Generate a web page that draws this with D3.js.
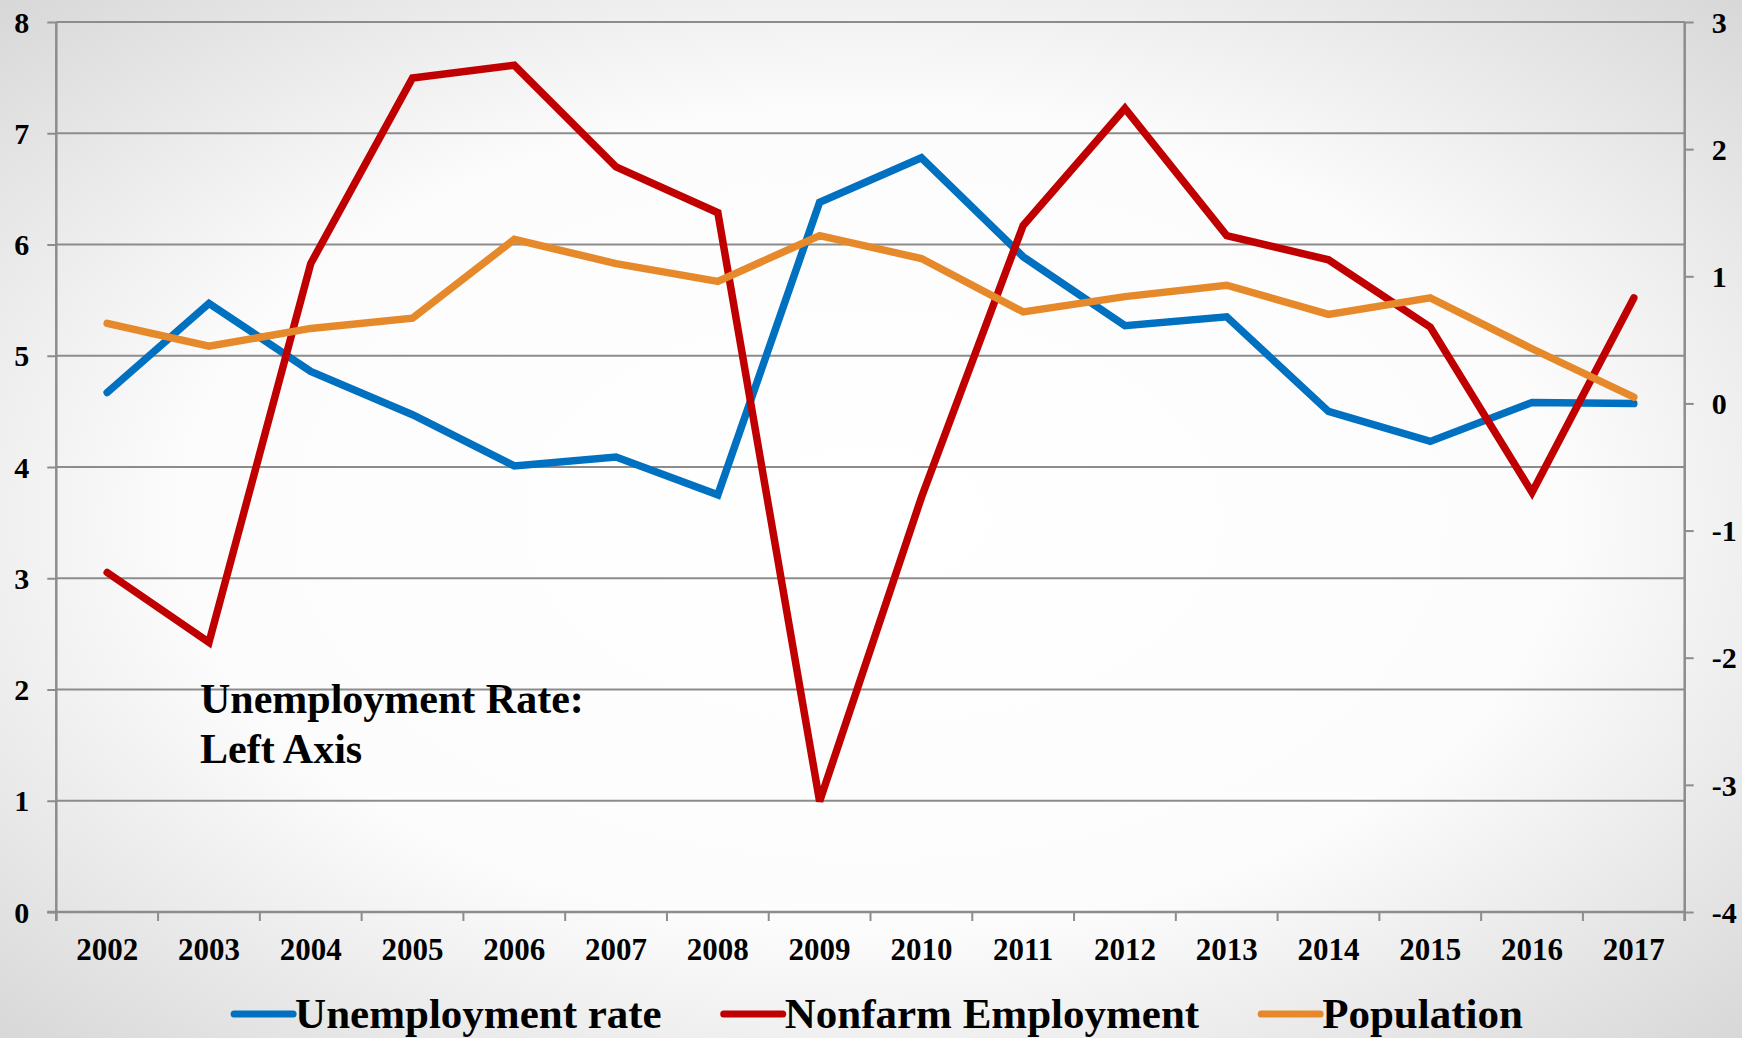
<!DOCTYPE html>
<html>
<head>
<meta charset="utf-8">
<script src="https://cdn.jsdelivr.net/npm/d3@7"></script>
<style>
  html, body { margin: 0; padding: 0; }
  body { width: 1742px; height: 1038px; overflow: hidden; }
  text { font-family: "Liberation Serif", "Times New Roman", serif; font-weight: bold; fill: #000; }
</style>
</head>
<body>
<svg id="chart" width="1742" height="1038"></svg>
<script>
const years = ["2002","2003","2004","2005","2006","2007","2008","2009","2010","2011","2012","2013","2014","2015","2016","2017"];
const unemploymentRate = [4.67, 5.47, 4.86, 4.47, 4.01, 4.09, 3.75, 6.38, 6.78, 5.89, 5.27, 5.35, 4.50, 4.23, 4.58, 4.57];
const nonfarmEmployment = [-1.33, -1.88, 1.10, 2.56, 2.66, 1.86, 1.50, -3.13, -0.74, 1.40, 2.32, 1.32, 1.13, 0.60, -0.70, 0.83];
const population = [0.63, 0.45, 0.59, 0.67, 1.29, 1.10, 0.96, 1.32, 1.14, 0.72, 0.84, 0.93, 0.70, 0.83, 0.43, 0.05];
const leftTicks = [0, 1, 2, 3, 4, 5, 6, 7, 8];
const rightTicks = [-4, -3, -2, -1, 0, 1, 2, 3];
const seriesNames = ["Unemployment rate", "Nonfarm Employment", "Population"];
const annotationLines = ["Unemployment Rate:", "Left Axis"];

const colors = ["#0070C0", "#C00000", "#E6892A"];
const W = 1742, H = 1038;
const plot = { left: 56.3, right: 1684.7, top: 22, bottom: 912 };
const gridColor = "#8c8c8c";
const fmt = d => String(d); // plain hyphen for negatives

const svg = d3.select("#chart");

// background radial gradient
const defs = svg.append("defs");
const grad = defs.append("radialGradient").attr("id", "bg")
  .attr("cx", "50%").attr("cy", "50%").attr("r", "72%");
grad.append("stop").attr("offset", "0%").attr("stop-color", "#ffffff");
grad.append("stop").attr("offset", "55%").attr("stop-color", "#fcfcfc");
grad.append("stop").attr("offset", "100%").attr("stop-color", "#d6d6d6");
svg.append("rect").attr("width", W).attr("height", H).attr("fill", "url(#bg)");

const x = d3.scaleBand().domain(years).range([plot.left, plot.right]).paddingInner(0).paddingOuter(0);
const yL = d3.scaleLinear().domain([0, 8]).range([plot.bottom, plot.top]);
const yR = d3.scaleLinear().domain([-4, 3]).range([plot.bottom, plot.top]);

// gridlines
svg.append("g").selectAll("line").data(leftTicks.filter(d => d > 0)).join("line")
  .attr("x1", plot.left).attr("x2", plot.right)
  .attr("y1", d => yL(d)).attr("y2", d => yL(d))
  .attr("stroke", gridColor).attr("stroke-width", 2);

function styleTickText(sel, size) {
  sel.style("font-size", size).style("font-family", '"Liberation Serif", serif')
    .style("font-weight", "bold").attr("fill", "#000");
}

// left axis
const leftAxis = svg.append("g").attr("transform", `translate(${plot.left},0)`)
  .call(d3.axisLeft(yL).tickValues(leftTicks).tickSize(9).tickPadding(18).tickFormat(fmt));
leftAxis.select(".domain").remove();
leftAxis.selectAll(".tick line").attr("stroke", gridColor).attr("stroke-width", 2);
styleTickText(leftAxis.selectAll(".tick text").attr("dy", "0.34em"), "30px");
svg.append("line").attr("x1", plot.left).attr("x2", plot.left)
  .attr("y1", plot.top).attr("y2", plot.bottom + 9)
  .attr("stroke", gridColor).attr("stroke-width", 2.5);

// right axis
const rightAxis = svg.append("g").attr("transform", `translate(${plot.right},0)`)
  .call(d3.axisRight(yR).tickValues(rightTicks).tickSize(9).tickPadding(18).tickFormat(fmt));
rightAxis.select(".domain").remove();
rightAxis.selectAll(".tick line").attr("stroke", gridColor).attr("stroke-width", 2);
styleTickText(rightAxis.selectAll(".tick text").attr("dy", "0.34em"), "30px");
svg.append("line").attr("x1", plot.right).attr("x2", plot.right)
  .attr("y1", plot.top).attr("y2", plot.bottom + 9)
  .attr("stroke", gridColor).attr("stroke-width", 2.5);

// bottom axis
const bottomAxis = svg.append("g").attr("transform", `translate(0,${plot.bottom})`)
  .call(d3.axisBottom(x).tickSize(0).tickPadding(26));
bottomAxis.select(".domain").remove();
styleTickText(bottomAxis.selectAll(".tick text"), "31px");
svg.append("line").attr("x1", plot.left - 9).attr("x2", plot.right)
  .attr("y1", plot.bottom).attr("y2", plot.bottom)
  .attr("stroke", gridColor).attr("stroke-width", 2.5);
const boundaries = years.map(y => x(y)).concat([x(years[years.length - 1]) + x.bandwidth()]);
svg.append("g").selectAll("line").data(boundaries).join("line")
  .attr("x1", d => d).attr("x2", d => d)
  .attr("y1", plot.bottom).attr("y2", plot.bottom + 9)
  .attr("stroke", gridColor).attr("stroke-width", 2);

// annotation
const ann = svg.append("text").attr("x", 200).attr("y", 713).style("font-size", "42px");
ann.selectAll("tspan").data(annotationLines).join("tspan")
  .attr("x", 200).attr("dy", (d, i) => i === 0 ? 0 : 50).text(d => d);

// lines
const cx = d => x(d) + x.bandwidth() / 2;
const data = [
  { vals: unemploymentRate, scale: yL },
  { vals: nonfarmEmployment, scale: yR },
  { vals: population, scale: yR }
];
data.forEach((s, i) => {
  const line = d3.line().x((d, j) => cx(years[j])).y(d => s.scale(d));
  svg.append("path").datum(s.vals).attr("d", line)
    .attr("fill", "none").attr("stroke", colors[i]).attr("stroke-width", 7.5)
    .attr("stroke-linecap", "round").attr("stroke-linejoin", "miter");
});

// legend
const legend = svg.append("g");
const swW = 59, swGap = 2, itemGap = 62, legY = 1014, legBase = 1028;
let cursor = 0;
seriesNames.forEach((name, i) => {
  const g = legend.append("g");
  g.append("line").attr("x1", cursor).attr("x2", cursor + swW)
    .attr("y1", legY).attr("y2", legY)
    .attr("stroke", colors[i]).attr("stroke-width", 7).attr("stroke-linecap", "round");
  const t = g.append("text").attr("x", cursor + swW + swGap).attr("y", legBase)
    .style("font-size", "43px").text(name);
  const w = t.node().getComputedTextLength();
  cursor += swW + swGap + w + itemGap;
});
const totalW = cursor - itemGap;
legend.attr("transform", `translate(${239 + (1518 - 239 - totalW) / 2},0)`);
</script>
</body>
</html>
